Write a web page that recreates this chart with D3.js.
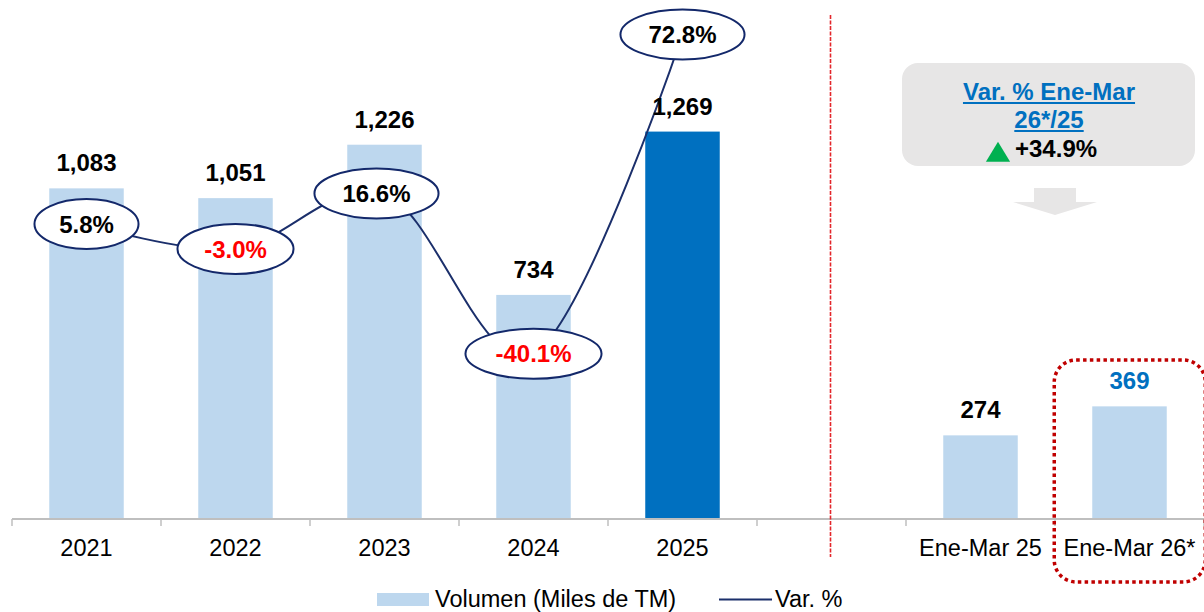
<!DOCTYPE html>
<html>
<head>
<meta charset="utf-8">
<script src="https://cdn.jsdelivr.net/npm/d3@7"></script>
<style>
  html, body { margin: 0; padding: 0; background: #fff; }
  svg { display: block; font-family: "Liberation Sans", Arial, sans-serif; }
</style>
</head>
<body>
<svg id="chart" width="1204" height="612"></svg>
<script>
// ---- data ----
const categories = ["2021", "2022", "2023", "2024", "2025", "", "Ene-Mar 25", "Ene-Mar 26*"];
const volumes = [1083, 1051, 1226, 734, 1269, null, 274, 369];
const varCategories = ["2021", "2022", "2023", "2024", "2025"];
const varPct = [5.8, -3.0, 16.6, -40.1, 72.8];
const legendLabels = ["Volumen (Miles de TM)", "Var. %"];
const calloutTitle = ["Var. % Ene-Mar", "26*/25"];
const calloutValue = "+34.9%";

// ---- setup ----
const svg = d3.select("#chart");
const baseY = 519;

const x = d3.scaleBand().domain(categories).range([12, 1204]).paddingInner(0.5).paddingOuter(0.25);
const y = d3.scaleLinear().domain([0, 1700]).range([baseY, 0]);
const y2 = d3.scaleLinear().domain([-98.5, 85]).range([baseY, 0]);
const cx = c => x(c) + x.bandwidth() / 2;

const loc = d3.formatLocale({ decimal: ".", thousands: ",", grouping: [3], currency: ["$", ""], minus: "-" });
const fmt = loc.format(",");
const pctFmt = loc.format(".1f");

const barData = categories.map((c, i) => ({ c, v: volumes[i] })).filter(d => d.v != null);
const lineData = varCategories.map((c, i) => ({ c, v: varPct[i] }));

// ---- bars ----
svg.append("g").selectAll("rect").data(barData).join("rect")
  .attr("x", d => x(d.c))
  .attr("width", x.bandwidth())
  .attr("y", d => y(d.v))
  .attr("height", d => y(0) - y(d.v))
  .attr("fill", d => d.c === "2025" ? "#0070C0" : "#BDD7EE");

// ---- axis ----
const axisG = svg.append("g").attr("transform", `translate(0,${baseY})`)
  .call(d3.axisBottom(x).tickSize(0).tickPadding(0));
axisG.select(".domain").remove();
axisG.selectAll("text")
  .attr("y", 37).attr("dy", 0)
  .attr("fill", "#000")
  .style("font-size", "23.5px")
  .style("font-family", "'Liberation Sans', Arial, sans-serif");
axisG.append("line").attr("x1", 12).attr("x2", 1204).attr("y1", 0).attr("y2", 0)
  .attr("stroke", "#BFBFBF").attr("stroke-width", 2);
const boundaries = d3.range(categories.length + 1).map(i => 12 + i * x.step());
axisG.selectAll("line.tk").data(boundaries).join("line").attr("class", "tk")
  .attr("x1", d => d).attr("x2", d => d).attr("y1", 0).attr("y2", 7)
  .attr("stroke", "#BFBFBF").attr("stroke-width", 1.5);

// ---- separator dashed line ----
svg.append("line")
  .attr("x1", cx("") - 1).attr("x2", cx("") - 1)
  .attr("y1", 15).attr("y2", 557)
  .attr("stroke", "#E3262B").attr("stroke-width", 1.6)
  .attr("stroke-dasharray", "4 1.5");

// ---- line series ----
const lineGen = d3.line().x(d => cx(d.c)).y(d => y2(d.v)).curve(d3.curveCardinal.tension(0));
svg.append("path").datum(lineData)
  .attr("d", lineGen)
  .attr("fill", "none")
  .attr("stroke", "#1B2F6B")
  .attr("stroke-width", 2);

// ---- ellipse labels ----
const eg = svg.append("g").selectAll("g").data(lineData).join("g")
  .attr("transform", d => `translate(${cx(d.c) - (d.c === "2023" ? 8 : 0)},${y2(d.v)})`);
eg.append("ellipse").attr("rx", 50).attr("ry", 25)
  .attr("fill", "#fff").attr("stroke", "#13286A").attr("stroke-width", 2);
const etxt = eg.append("text")
  .attr("text-anchor", "middle").attr("dy", "0.36em")
  .style("font-size", "24px").style("font-weight", "bold")
  .attr("fill", d => d.v < 0 ? "#FF0000" : "#000")
  .text(d => pctFmt(d.v) + "%");
etxt.each(function() {
  const w = this.getComputedTextLength();
  d3.select(this.parentNode).select("ellipse").attr("rx", (w * 1.5 + 22) / 2);
});

// ---- bar value labels ----
svg.append("g").selectAll("text").data(barData).join("text")
  .attr("x", d => cx(d.c))
  .attr("y", d => y(d.v) - 17)
  .attr("text-anchor", "middle")
  .style("font-size", "24px").style("font-weight", "bold")
  .attr("fill", d => d.c === "Ene-Mar 26*" ? "#0070C0" : "#000")
  .text(d => fmt(d.v));

// ---- dotted highlight box ----
const lastC = categories[categories.length - 1];
svg.append("rect")
  .attr("x", x(lastC) - 38).attr("y", 360)
  .attr("width", 151).attr("height", 222)
  .attr("rx", 22).attr("ry", 22)
  .attr("fill", "none").attr("stroke", "#C00000")
  .attr("stroke-width", 3.5).attr("stroke-dasharray", "3.5 3.3");

// ---- callout ----
const calloutX = (cx("Ene-Mar 25") + cx(lastC)) / 2 - 6;
svg.append("rect").attr("x", 902).attr("y", 63).attr("width", 293).attr("height", 103)
  .attr("rx", 16).attr("fill", "#E7E6E6");
const tl = svg.append("g");
calloutTitle.forEach((t, i) => {
  const tt = tl.append("text").attr("x", calloutX).attr("y", 100 + i * 28)
    .attr("text-anchor", "middle")
    .style("font-size", "24px").style("font-weight", "bold")
    .attr("fill", "#0070C0").text(t);
  const w = tt.node().getComputedTextLength();
  tl.append("rect").attr("x", calloutX - w / 2).attr("y", 102 + i * 28)
    .attr("width", w).attr("height", 2).attr("fill", "#0070C0");
});
svg.append("path")
  .attr("d", d3.symbol(d3.symbolTriangle, 230)())
  .attr("transform", `translate(998,155) scale(1.05,1)`)
  .attr("fill", "#00B050");
svg.append("text").attr("x", 1015).attr("y", 157)
  .style("font-size", "24px").style("font-weight", "bold")
  .attr("fill", "#000").text(calloutValue);
// down arrow
svg.append("path")
  .attr("d", "M1034,188 L1076,188 L1076,202 L1097,202 L1055,215 L1013,202 L1034,202 Z")
  .attr("fill", "#E7E6E6");

// ---- legend ----
const lg = svg.append("g");
lg.append("rect").attr("x", 377).attr("y", 593).attr("width", 52).attr("height", 13).attr("fill", "#BDD7EE");
lg.append("text").attr("x", 435).attr("y", 607).style("font-size", "23.5px").attr("fill", "#000").text(legendLabels[0]);
lg.append("line").attr("x1", 719).attr("x2", 772).attr("y1", 599.5).attr("y2", 599.5)
  .attr("stroke", "#1B2F6B").attr("stroke-width", 2);
lg.append("text").attr("x", 775).attr("y", 607).style("font-size", "23.5px").attr("fill", "#000").text(legendLabels[1]);
</script>
</body>
</html>
